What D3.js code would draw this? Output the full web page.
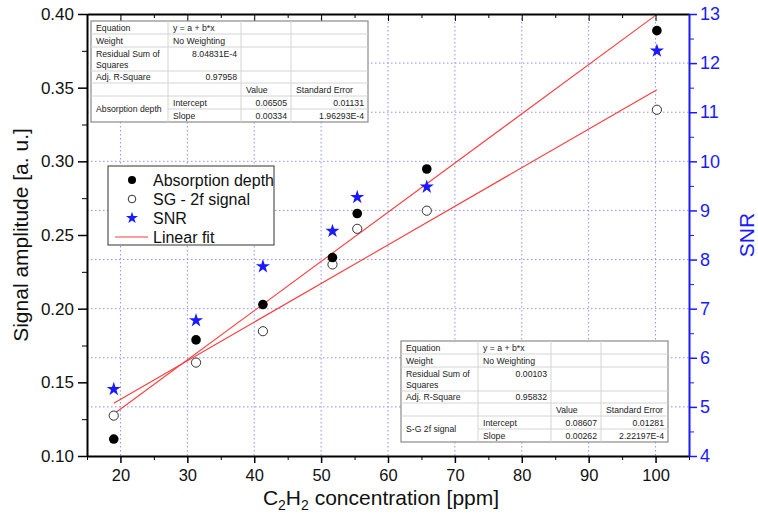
<!DOCTYPE html>
<html>
<head>
<meta charset="utf-8">
<script src="https://cdn.jsdelivr.net/npm/d3@7"></script>
<style>
  body { margin: 0; background: #fff; }
  svg { font-family: "Liberation Sans", Arial, sans-serif; }
</style>
</head>
<body>
<div id="chart"></div>
<script>
// values
const concentration = [19, 31.3, 41.3, 51.7, 55.4, 65.8, 100.2];
const absorption = [0.1115, 0.1788, 0.2028, 0.2347, 0.2646, 0.2948, 0.3887];
const sg2f = [0.1274, 0.1634, 0.1847, 0.2300, 0.2542, 0.2665, 0.3350];
const snr = [5.36, 6.76, 7.86, 8.58, 9.27, 9.48, 12.25];

// linear fits y = a + b*x
const fitAbs = { a: 0.06505, b: 0.00334 };
const fitSG = { a: 0.08607, b: 0.00262 };

const xTicks = [20, 30, 40, 50, 60, 70, 80, 90, 100];
const yTicks = [0.10, 0.15, 0.20, 0.25, 0.30, 0.35, 0.40];
const snrTicks = [4, 5, 6, 7, 8, 9, 10, 11, 12, 13];

const legendLabels = ["Absorption depth", "SG - 2f signal", "SNR", "Linear fit"];

const tableAbs = [
    ["Equation", "y = a + b*x", "", ""],
    ["Weight", "No Weighting", "", ""],
    ["Residual Sum of|Squares", "8.04831E-4", "", ""],
    ["Adj. R-Square", "0.97958", "", ""],
    ["", "", "Value", "Standard Error"],
    ["Absorption depth", "Intercept", "0.06505", "0.01131"],
    ["", "Slope", "0.00334", "1.96293E-4"]
];
const tableSG = [
    ["Equation", "y = a + b*x", "", ""],
    ["Weight", "No Weighting", "", ""],
    ["Residual Sum of|Squares", "0.00103", "", ""],
    ["Adj. R-Square", "0.95832", "", ""],
    ["", "", "Value", "Standard Error"],
    ["S-G 2f signal", "Intercept", "0.08607", "0.01281"],
    ["", "Slope", "0.00262", "2.22197E-4"]
];

const width = 758, height = 521;
const margin = { top: 14, right: 69, bottom: 65, left: 87 };
const plotW = width - margin.left - margin.right;
const plotH = height - margin.top - margin.bottom;

const svg = d3.select("#chart").append("svg")
    .attr("width", width)
    .attr("height", height);

const x = d3.scaleLinear().domain([15, 105]).range([margin.left, margin.left + plotW]);
const y = d3.scaleLinear().domain([0.10, 0.40]).range([margin.top + plotH, margin.top]);
const ySnr = d3.scaleLinear().domain([4, 13]).range([margin.top + plotH, margin.top]);

const gridColor = "#9191ff";

// grid
svg.append("g").selectAll("line")
    .data(xTicks)
    .enter().append("line")
    .attr("x1", d => x(d)).attr("x2", d => x(d))
    .attr("y1", margin.top).attr("y2", margin.top + plotH)
    .attr("stroke", gridColor).attr("stroke-width", 1)
    .attr("stroke-dasharray", "1.5,2.5");

svg.append("g").selectAll("line")
    .data(snrTicks.slice(1, -1))
    .enter().append("line")
    .attr("x1", margin.left).attr("x2", margin.left + plotW)
    .attr("y1", d => ySnr(d)).attr("y2", d => ySnr(d))
    .attr("stroke", gridColor).attr("stroke-width", 1)
    .attr("stroke-dasharray", "1.5,2.5");

// tables
function drawTable(rows, left, top, colX) {
    const rowH = [13, 13, 24, 12, 13, 13, 13];
    const g = svg.append("g").attr("transform", `translate(${left},${top})`);
    const totalH = d3.sum(rowH);
    const tw = colX[colX.length - 1];
    g.append("rect").attr("width", tw).attr("height", totalH)
        .attr("fill", "#fff").attr("stroke", "#8a8a8a").attr("stroke-width", 1.2);

    let yy = 0;
    rowH.forEach((h, i) => {
        if (i > 0) {
            g.append("line")
                .attr("x1", i === 6 ? colX[1] : 0).attr("x2", tw)
                .attr("y1", yy).attr("y2", yy)
                .attr("stroke", "#d4d4d4");
        }
        yy += h;
    });
    colX.slice(1, -1).forEach(cx => {
        g.append("line").attr("x1", cx).attr("x2", cx)
            .attr("y1", 0).attr("y2", totalH).attr("stroke", "#d4d4d4");
    });

    yy = 0;
    rows.forEach((r, i) => {
        const h = rowH[i];
        r.forEach((txt, j) => {
            if (!txt) return;
            const numeric = /^[0-9]/.test(txt);
            const t = g.append("text")
                .attr("font-size", "8.7px")
                .attr("fill", "#222");
            let ty = yy + h / 2 + 3.2;
            if (i === 2) ty = yy + 9.5;
            if (i === 5 && j === 0) ty = yy + h + 3.2;
            if (numeric) {
                t.attr("x", colX[j + 1] - 4).attr("text-anchor", "end");
            } else {
                t.attr("x", colX[j] + 5);
            }
            if (txt.includes("|")) {
                const parts = txt.split("|");
                parts.forEach((p, k) => {
                    t.append("tspan").attr("x", colX[j] + 5)
                        .attr("y", ty + k * 11.5).text(p);
                });
            } else {
                t.attr("y", ty).text(txt);
            }
        });
        yy += h;
    });
}

// fit lines
const fitLine = d3.line().x(d => x(d[0])).y(d => y(d[1]));
[fitAbs, fitSG].forEach(f => {
    const x0 = d3.min(concentration), x1 = d3.max(concentration);
    svg.append("path")
        .attr("d", fitLine([[x0, f.a + f.b * x0], [x1, f.a + f.b * x1]]))
        .attr("fill", "none")
        .attr("stroke", "#ff3a3a")
        .attr("stroke-width", 1.1);
});

// axes
function minorBetween(arr) {
    const out = [];
    for (let i = 0; i < arr.length - 1; i++) out.push((arr[i] + arr[i + 1]) / 2);
    return out;
}

const xMinor = [15].concat(minorBetween(xTicks), [105]);

// bottom
svg.append("g")
    .attr("transform", `translate(0,${margin.top + plotH})`)
    .call(d3.axisBottom(x).tickValues(xMinor).tickSize(4).tickFormat(""))
    .call(g => g.select(".domain").remove());
const xAxis = svg.append("g")
    .attr("transform", `translate(0,${margin.top + plotH})`)
    .call(d3.axisBottom(x).tickValues(xTicks).tickSizeInner(7).tickSizeOuter(0).tickPadding(6));
xAxis.selectAll("text").attr("font-size", "16.5px").attr("fill", "#111");

// top (ticks inside)
svg.append("g")
    .attr("transform", `translate(0,${margin.top})`)
    .call(d3.axisTop(x).tickValues(xMinor).tickSize(-4).tickFormat(""))
    .call(g => g.select(".domain").remove());
svg.append("g")
    .attr("transform", `translate(0,${margin.top})`)
    .call(d3.axisTop(x).tickValues(xTicks).tickSizeInner(-7).tickSizeOuter(0).tickFormat(""));

// left
svg.append("g")
    .attr("transform", `translate(${margin.left},0)`)
    .call(d3.axisLeft(y).tickValues(minorBetween(yTicks)).tickSize(5).tickFormat(""))
    .call(g => g.select(".domain").remove());
const yAxis = svg.append("g")
    .attr("transform", `translate(${margin.left},0)`)
    .call(d3.axisLeft(y).tickValues(yTicks).tickSizeInner(9).tickSizeOuter(0).tickPadding(4).tickFormat(d3.format(".2f")));
yAxis.selectAll("text").attr("font-size", "17px").attr("fill", "#111");

// right (SNR, blue)
const blue = "#1a1aff";
const rMinor = svg.append("g")
    .attr("transform", `translate(${margin.left + plotW},0)`)
    .call(d3.axisRight(ySnr).tickValues(minorBetween(snrTicks)).tickSize(5).tickFormat(""));
rMinor.select(".domain").remove();
rMinor.selectAll("line").attr("stroke", blue);
const rAxis = svg.append("g")
    .attr("transform", `translate(${margin.left + plotW},0)`)
    .call(d3.axisRight(ySnr).tickValues(snrTicks).tickSizeInner(8).tickSizeOuter(0).tickPadding(3));
rAxis.select(".domain").attr("stroke", blue).attr("stroke-width", 2);
rAxis.selectAll("line").attr("stroke", blue).attr("stroke-width", 1.5);
rAxis.selectAll("text").attr("font-size", "18px").attr("fill", blue);

[xAxis, yAxis].forEach(a => {
    a.select(".domain").attr("stroke-width", 2);
    a.selectAll(".tick line").attr("stroke-width", 1.5);
});
svg.selectAll("g .domain").filter(function() { return !this.getAttribute("stroke-width"); })
    .attr("stroke-width", 2);

drawTable(tableAbs, 91, 21, [0, 77, 150, 200, 277]);
drawTable(tableSG, 401, 341, [0, 77, 150, 200, 267]);

// points
const pts = concentration.map((c, i) => ({ c, a: absorption[i], s: sg2f[i], n: snr[i] }));
const star = d3.symbol().type(d3.symbolStar).size(62);

svg.append("g").selectAll("circle")
    .data(pts).enter().append("circle")
    .attr("cx", d => x(d.c)).attr("cy", d => y(d.s)).attr("r", 4.6)
    .attr("fill", "#fff").attr("stroke", "#333").attr("stroke-width", 1);

svg.append("g").selectAll("circle")
    .data(pts).enter().append("circle")
    .attr("cx", d => x(d.c)).attr("cy", d => y(d.a)).attr("r", 4.8)
    .attr("fill", "#000");

svg.append("g").selectAll("path")
    .data(pts).enter().append("path")
    .attr("d", star)
    .attr("transform", d => `translate(${x(d.c)},${ySnr(d.n)})`)
    .attr("fill", blue);

// legend
const legend = svg.append("g").attr("transform", "translate(108,166)");
legend.append("rect").attr("width", 166).attr("height", 79)
    .attr("fill", "#fff").attr("stroke", "#333").attr("stroke-width", 1);
legendLabels.forEach((lab, i) => {
    const cy = 14 + i * 19;
    legend.append("text").attr("x", 45).attr("y", cy + 6)
        .attr("font-size", "16px").attr("fill", "#111").text(lab);
    if (i === 0) legend.append("circle").attr("cx", 24).attr("cy", cy).attr("r", 4).attr("fill", "#000");
    if (i === 1) legend.append("circle").attr("cx", 24).attr("cy", cy).attr("r", 3.8)
        .attr("fill", "#fff").attr("stroke", "#333");
    if (i === 2) legend.append("path").attr("d", d3.symbol().type(d3.symbolStar).size(45))
        .attr("transform", `translate(24,${cy})`).attr("fill", blue);
    if (i === 3) legend.append("line").attr("x1", 7).attr("x2", 40)
        .attr("y1", cy).attr("y2", cy).attr("stroke", "#ff3a3a").attr("stroke-width", 1.1);
});

// axis titles
svg.append("text")
    .attr("transform", `translate(28,${margin.top + plotH / 2}) rotate(-90)`)
    .attr("text-anchor", "middle")
    .attr("font-size", "21px").attr("fill", "#111")
    .text("Signal amplitude [a. u.]");

svg.append("text")
    .attr("transform", `translate(754,${margin.top + plotH / 2}) rotate(-90)`)
    .attr("text-anchor", "middle")
    .attr("font-size", "21px").attr("fill", blue)
    .text("SNR");

const xt = svg.append("text")
    .attr("x", 381).attr("y", 505)
    .attr("text-anchor", "middle")
    .attr("font-size", "21px").attr("fill", "#111");
xt.append("tspan").text("C");
xt.append("tspan").attr("font-size", "14px").attr("dy", 5).text("2");
xt.append("tspan").attr("dy", -5).text("H");
xt.append("tspan").attr("font-size", "14px").attr("dy", 5).text("2");
xt.append("tspan").attr("dy", -5).text(" concentration [ppm]");
</script>
</body>
</html>
